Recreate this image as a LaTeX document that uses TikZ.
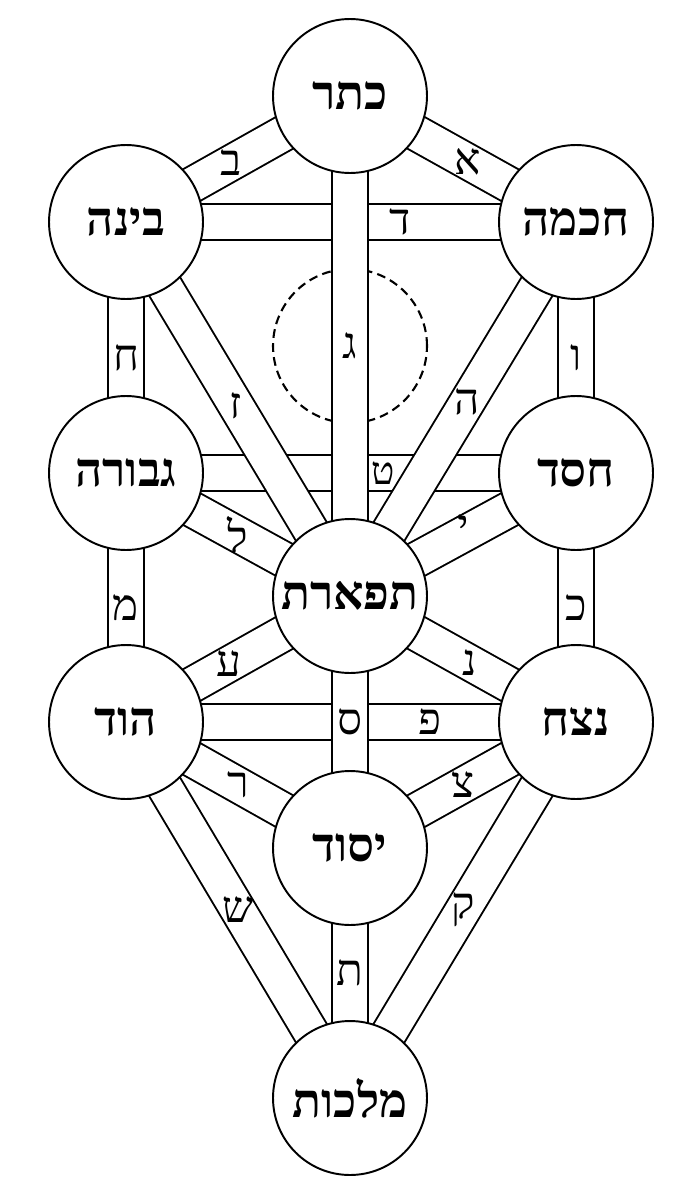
\documentclass[tikz,border=0pt]{standalone}
\usepackage{fontspec}
\newfontfamily\hebfont[Script=Hebrew]{Liberation Serif}
\TeXXeTstate=1
\usetikzlibrary{backgrounds}

\begin{document}
\begin{tikzpicture}[x=0.02cm, y=-0.02cm,
    sefira/.style={circle, draw, line width=1.1pt, fill=white, minimum size=3.08cm,
      inner sep=0pt, font=\hebfont\bfseries\fontsize{27}{32}\selectfont},
    band/.style={line width=1.1pt, double=white, double distance=0.68cm},
    ot/.style={font=\hebfont\fontsize{25}{30}\selectfont, inner sep=1pt},
    daatline/.style={draw, circle, line width=1.2pt, dash pattern=on 5pt off 3pt,
      minimum size=3.08cm, inner sep=0pt}]
\useasboundingbox (0,0) rectangle (692,1200);

% the sefirot
\node[sefira] (keter)   at (350,96)   {\beginR כתר\endR};
\node[sefira] (chokhma) at (576,222)  {\beginR חכמה\endR};
\node[sefira] (bina)    at (126,222)  {\beginR בינה\endR};
\node[sefira] (chesed)  at (576,473)  {\beginR חסד\endR};
\node[sefira] (gvura)   at (126,473)  {\beginR גבורה\endR};
\node[sefira] (tiferet) at (350,596)  {\beginR תפארת\endR};
\node[sefira] (netzach) at (576,722)  {\beginR נצח\endR};
\node[sefira] (hod)     at (126,722)  {\beginR הוד\endR};
\node[sefira] (yesod)   at (350,848)  {\beginR יסוד\endR};
\node[sefira] (malkhut) at (350,1098) {\beginR מלכות\endR};

\begin{scope}[on background layer]
  \node[daatline] (daat) at (350,346) {};

  % horizontal paths go under the others
  \draw[band] (bina.center) -- (chokhma.center);
  \draw[band] (gvura.center) -- (chesed.center);
  \draw[band] (hod.center) -- (netzach.center);

  \draw[band] (keter.center) -- (chokhma.center);
  \draw[band] (keter.center) -- (bina.center);
  \draw[band] (keter.center) -- (tiferet.center);
  \draw[band] (chokhma.center) -- (tiferet.center);
  \draw[band] (chokhma.center) -- (chesed.center);
  \draw[band] (bina.center) -- (tiferet.center);
  \draw[band] (bina.center) -- (gvura.center);
  \draw[band] (chesed.center) -- (tiferet.center);
  \draw[band] (chesed.center) -- (netzach.center);
  \draw[band] (gvura.center) -- (tiferet.center);
  \draw[band] (gvura.center) -- (hod.center);
  \draw[band] (tiferet.center) -- (netzach.center);
  \draw[band] (tiferet.center) -- (yesod.center);
  \draw[band] (tiferet.center) -- (hod.center);
  \draw[band] (netzach.center) -- (yesod.center);
  \draw[band] (netzach.center) -- (malkhut.center);
  \draw[band] (hod.center) -- (yesod.center);
  \draw[band] (hod.center) -- (malkhut.center);
  \draw[band] (yesod.center) -- (malkhut.center);
\end{scope}

% the letters of the paths
\path (keter.center) -- (chokhma.center) node[ot, pos=0.52] (alef) {א};
\path (keter.center) -- (bina.center) node[ot, pos=0.53] (bet) {ב};
\path (keter.center) -- (tiferet.center) node[ot, midway] (gimel) {ג};
\path (bina.center) -- (chokhma.center) node[ot, pos=0.61] (dalet) {ד};
\path (chokhma.center) -- (tiferet.center) node[ot, pos=0.48] (he) {ה};
\path (chokhma.center) -- (chesed.center) node[ot, pos=0.54] (vav) {ו};
\path (bina.center) -- (tiferet.center) node[ot, pos=0.49] (zayin) {ז};
\path (bina.center) -- (gvura.center) node[ot, pos=0.54] (chet) {ח};
\path (gvura.center) -- (chesed.center) node[ot, pos=0.572, font=\hebfont\fontsize{22}{26}\selectfont] (tet) {ט};
\path (chesed.center) -- (tiferet.center) node[ot, midway, yshift=4pt] (yod) {י};
\path (chesed.center) -- (netzach.center) node[ot, pos=0.54] (kaf) {כ};
\path (gvura.center) -- (tiferet.center) node[ot, midway] (lamed) {ל};
\path (gvura.center) -- (hod.center) node[ot, pos=0.54] (mem) {מ};
\path (tiferet.center) -- (netzach.center) node[ot, pos=0.53] (nun) {נ};
\path (tiferet.center) -- (yesod.center) node[ot, midway] (samekh) {ס};
\path (tiferet.center) -- (hod.center) node[ot, pos=0.54] (ayin) {ע};
\path (hod.center) -- (netzach.center) node[ot, pos=0.675] (pe) {פ};
\path (netzach.center) -- (yesod.center) node[ot, midway] (tsadi) {צ};
\path (netzach.center) -- (malkhut.center) node[ot, midway] (qof) {ק};
\path (hod.center) -- (yesod.center) node[ot, midway] (resh) {ר};
\path (hod.center) -- (malkhut.center) node[ot, midway] (shin) {ש};
\path (yesod.center) -- (malkhut.center) node[ot, midway] (tav) {ת};
\end{tikzpicture}
\end{document}
